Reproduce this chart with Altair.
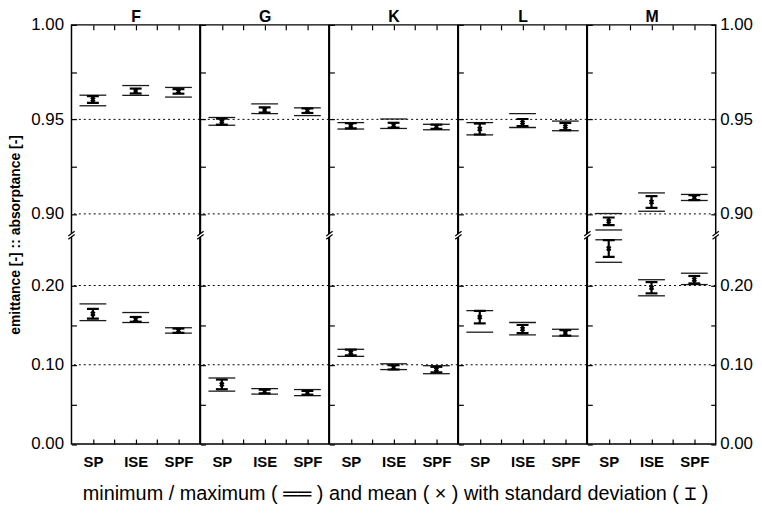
import altair as alt
import pandas as pd

FONT = "Liberation Sans, Arial, DejaVu Sans, DejaVu Sans Mono, Noto Sans CJK SC"

panels = ["F", "G", "K", "L", "M"]
methods = ["SP", "ISE", "SPF"]

# absorptance [-] (upper part of the broken axis), order: panel-major, method-minor
abs_max = [0.9628, 0.9679, 0.9669, 0.9510, 0.9582, 0.9561, 0.9483, 0.9502, 0.9474,
           0.9483, 0.9531, 0.9491, 0.9002, 0.9111, 0.9103]
abs_min = [0.9572, 0.9627, 0.9618, 0.9469, 0.9531, 0.9520, 0.9449, 0.9452, 0.9445,
           0.9418, 0.9457, 0.9440, 0.8915, 0.9014, 0.9071]
abs_mean = [0.9605, 0.9650, 0.9648, 0.9488, 0.9550, 0.9546, 0.9466, 0.9469, 0.9461,
            0.9449, 0.9483, 0.9462, 0.8961, 0.9063, 0.9086]
abs_sd = [0.0018, 0.0013, 0.0012, 0.0016, 0.0014, 0.0012, 0.0014, 0.0013, 0.0011,
          0.0029, 0.0019, 0.0019, 0.0020, 0.0031, 0.0013]

# emittance [-] (lower part of the broken axis)
emi_max = [0.1768, 0.1659, 0.1467, 0.0833, 0.0699, 0.0687, 0.1195, 0.1012, 0.0988,
           0.1683, 0.1533, 0.1448, 0.2577, 0.2073, 0.2155]
emi_min = [0.1557, 0.1533, 0.1399, 0.0667, 0.0630, 0.0610, 0.1106, 0.0939, 0.0887,
           0.1411, 0.1378, 0.1362, 0.2293, 0.1870, 0.2012]
emi_mean = [0.1643, 0.1573, 0.1430, 0.0752, 0.0662, 0.0646, 0.1155, 0.0967, 0.0939,
            0.1601, 0.1451, 0.1402, 0.2467, 0.1972, 0.2073]
emi_sd = [0.0061, 0.0030, 0.0027, 0.0061, 0.0024, 0.0024, 0.0037, 0.0027, 0.0035,
          0.0079, 0.0051, 0.0035, 0.0106, 0.0071, 0.0047]

grid_values = [0.10, 0.20, 0.90, 0.95]
major_ticks = [0.00, 0.10, 0.20, 0.90, 0.95, 1.00]
major_labels = ["0.00", "0.10", "0.20", "0.90", "0.95", "1.00"]
minor_ticks = [0.05, 0.15, 0.925, 0.975]

Y_TITLE = "emittance [-]  ::  absorptance [-]"
LEGEND = "minimum / maximum (  \u2550\u2550  ) and mean ( \u00d7 ) with standard deviation ( \u2336 )"

# ---- broken y axis: lower segment 0 .. LOW_TOP, upper segment HIGH_BOTTOM .. 1 ----
LOW_TOP = 0.2634
HIGH_BOTTOM = 0.8887
STRETCH = 2.3854  # upper segment is drawn this much larger per unit


def disp(v):
    return v if v < 0.5 else LOW_TOP + (v - HIGH_BOTTOM) * STRETCH


TOP = disp(1.0)

rows = []
for i in range(len(panels) * len(methods)):
    p = panels[i // len(methods)]
    xi = i % len(methods)
    for mx, mn, me, sd in ((abs_max, abs_min, abs_mean, abs_sd),
                           (emi_max, emi_min, emi_mean, emi_sd)):
        rows.append(dict(panel=p, xi=xi,
                         vmax=disp(mx[i]), vmin=disp(mn[i]), vmean=disp(me[i]),
                         vlo=disp(me[i] - sd[i]), vhi=disp(me[i] + sd[i])))
df = pd.DataFrame(rows)
grid_df = pd.DataFrame({"d": [disp(v) for v in grid_values]})
brk_df = pd.DataFrame({"panel": panels + [panels[-1]],
                       "bx": [-0.5] * len(panels) + [len(methods) - 0.5],
                       "by": [LOW_TOP] * (len(panels) + 1)})

y_vals = sorted(round(disp(v), 6) for v in major_ticks + minor_ticks)
parts = [f"abs(datum.value - {round(disp(v), 6)}) < 0.00001 ? '{lab}'"
         for v, lab in zip(major_ticks, major_labels)]
y_label_expr = " : ".join(parts) + " : ''"

x_vals = [k * 0.5 for k in range(2 * len(methods) - 1)]
x_label_expr = " : ".join(f"datum.value == {k} ? '{m}'" for k, m in enumerate(methods)) + " : ''"

W = 129.4
H = 422.5
TS = 5

yscale = alt.Scale(domain=[0, TOP], nice=False, zero=False)
xscale = alt.Scale(domain=[-0.5, len(methods) - 0.5], nice=False, zero=False)

common_axis = dict(tickSize=TS, offset=-TS, domain=False, grid=False, tickColor="black",
                   tickWidth=1.2, labelOverlap=False, labelFlush=False, labelColor="black",
                   labelFont=FONT, title=None)


def panel_chart(idx, p):
    first = idx == 0
    last = idx == len(panels) - 1
    base = alt.Chart(df).transform_filter(alt.datum.panel == p)

    left_kw = dict(common_axis, orient="left", values=y_vals, labelExpr=y_label_expr,
                   labels=first, labelFontSize=17, labelPadding=8)
    if first:
        left_kw.update(title=Y_TITLE, titleFontSize=14, titleFontWeight="bold",
                       titlePadding=8, titleFont=FONT, titleColor="black")
    y_left = alt.Axis(**left_kw)
    if last:
        y_right = alt.Axis(**dict(common_axis, orient="right", values=y_vals,
                                  labelExpr=y_label_expr, labelFontSize=17,
                                  labelPadding=4))
    else:
        y_right = alt.Axis(**dict(common_axis, orient="right", values=y_vals,
                                  labels=False, ticks=False))

    x_bottom = alt.Axis(**dict(common_axis, orient="bottom", values=x_vals,
                               labelExpr=x_label_expr, labelFontSize=15,
                               labelFontWeight="bold", labelPadding=11))
    x_top = alt.Axis(**dict(common_axis, orient="top", values=x_vals,
                            labelExpr=f"datum.value == 1 ? '{p}' : ''", labelFontSize=16,
                            labelFontWeight="bold", labelPadding=0))

    grid = alt.Chart(grid_df).mark_rule(color="black", strokeWidth=1,
                                        strokeDash=[2, 3]).encode(
        y=alt.Y("d:Q", scale=yscale, axis=None))
    lo_line = base.mark_tick(orient="horizontal", size=27, thickness=1.3,
                             color="#1a1a1a", opacity=1).encode(
        x=alt.X("xi:Q", scale=xscale, axis=x_bottom),
        y=alt.Y("vmin:Q", scale=yscale, axis=y_left))
    hi_line = base.mark_tick(orient="horizontal", size=27, thickness=1.3,
                             color="#1a1a1a", opacity=1).encode(
        x=alt.X("xi:Q", scale=xscale, axis=x_top),
        y=alt.Y("vmax:Q", scale=yscale, axis=y_right))
    sd_rule = base.mark_rule(color="black", strokeWidth=2.2).encode(
        x=alt.X("xi:Q", scale=xscale, axis=None),
        y=alt.Y("vlo:Q", scale=yscale, axis=None), y2="vhi:Q")
    cap_lo = base.mark_tick(orient="horizontal", size=12, thickness=2.2,
                            color="black", opacity=1).encode(
        x=alt.X("xi:Q", scale=xscale, axis=None),
        y=alt.Y("vlo:Q", scale=yscale, axis=None))
    cap_hi = base.mark_tick(orient="horizontal", size=12, thickness=2.2,
                            color="black", opacity=1).encode(
        x=alt.X("xi:Q", scale=xscale, axis=None),
        y=alt.Y("vhi:Q", scale=yscale, axis=None))
    mean_pt = base.mark_point(shape="cross", angle=45, filled=True, size=30,
                              color="black", opacity=1).encode(
        x=alt.X("xi:Q", scale=xscale, axis=None),
        y=alt.Y("vmean:Q", scale=yscale, axis=None))
    bb = alt.Chart(brk_df).transform_filter(alt.datum.panel == p)
    brk_fill = bb.mark_point(shape="M-0.8,0.2L0.8,-1L0.8,-0.2L-0.8,1Z", size=64,
                             filled=True, color="white", opacity=1, clip=False).encode(
        x=alt.X("bx:Q", scale=xscale, axis=None),
        y=alt.Y("by:Q", scale=yscale, axis=None))
    brk_lines = bb.mark_point(shape="M-0.8,0.2L0.8,-1M-0.8,1L0.8,-0.2", size=64,
                              filled=False, color="black", strokeWidth=1.2, opacity=1,
                              clip=False).encode(
        x=alt.X("bx:Q", scale=xscale, axis=None),
        y=alt.Y("by:Q", scale=yscale, axis=None))

    return alt.layer(grid, lo_line, hi_line, sd_rule, cap_lo, cap_hi, mean_pt,
                     brk_fill, brk_lines).properties(width=W, height=H)


charts = [panel_chart(i, p) for i, p in enumerate(panels)]

chart = alt.hconcat(*charts, spacing=0, bounds="flush").properties(
    title=alt.TitleParams(LEGEND, orient="bottom", anchor="middle",
                          fontSize=20, fontWeight="normal", font=FONT, color="black",
                          offset=14, dx=15),
    padding={"left": 0, "top": -2, "right": 0, "bottom": 0},
    background="white",
).configure_view(stroke="black", strokeWidth=1.5)

chart.save("out.html", embed_options={"renderer": "svg", "actions": False})
